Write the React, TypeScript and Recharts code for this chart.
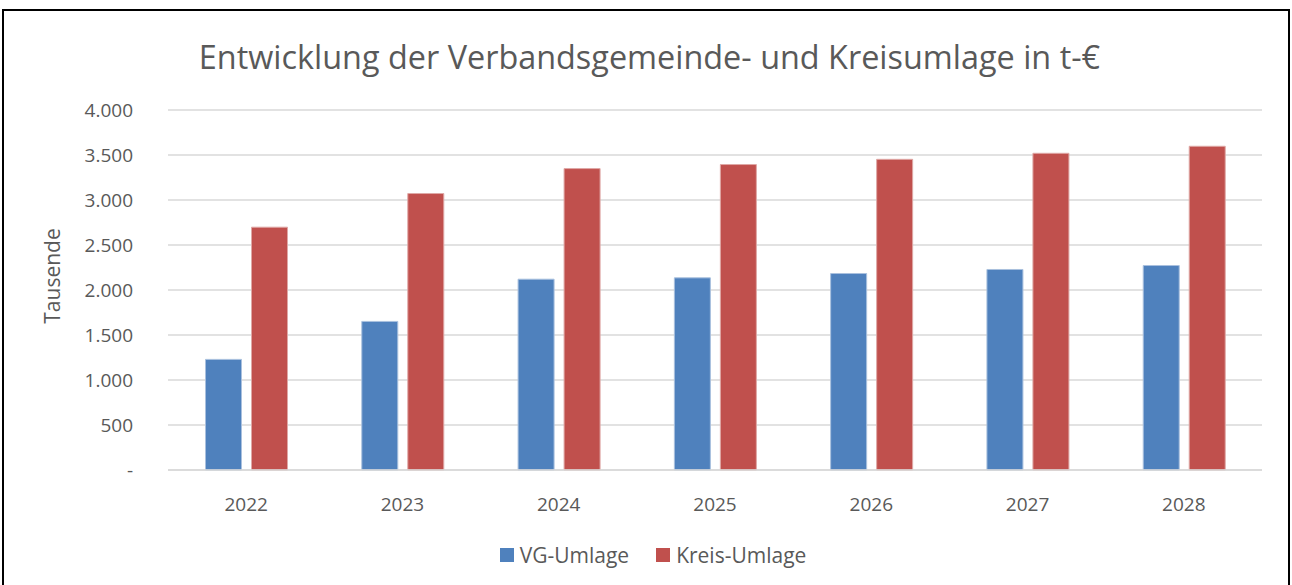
import React from 'react';
import { BarChart, Bar, CartesianGrid, XAxis, YAxis, Legend, Label } from 'recharts';

const years = ['2022', '2023', '2024', '2025', '2026', '2027', '2028'];
const vgUmlage = [1229, 1651, 2120, 2135, 2183, 2228, 2272];
const kreisUmlage = [2698, 3072, 3349, 3394, 3452, 3519, 3597];
const yTicks = [0, 500, 1000, 1500, 2000, 2500, 3000, 3500, 4000];

const FONT = '"Open Sans", Lato, sans-serif';
const TEXT = '#595959';

const formatTick = (v: number) => (v === 0 ? '-' : new Intl.NumberFormat('de-DE').format(v));

const data = years.map((y, i) => ({ year: y, vg: vgUmlage[i], kreis: kreisUmlage[i] }));

const LegendContent = () => (
    <div style={{ paddingTop: 18, paddingLeft: 44, display: 'flex', justifyContent: 'center', alignItems: 'center', fontFamily: FONT, fontSize: 21, lineHeight: '24px', color: TEXT }}>
        <span style={{ width: 14, height: 14, background: '#4F81BD', display: 'inline-block', marginRight: 6 }} />
        <span style={{ marginRight: 27 }}>VG-Umlage</span>
        <span style={{ width: 14, height: 14, background: '#C0504D', display: 'inline-block', marginRight: 6 }} />
        <span>Kreis-Umlage</span>
    </div>
);

const App: React.FC = () => {
    return (
        <div style={{ position: 'absolute', left: 0, top: 0, width: 1292, height: 585, background: '#fff', overflow: 'hidden' }}>
            <div style={{ position: 'absolute', left: 2, top: 9, width: 1288, height: 600, border: '2px solid #000', boxSizing: 'border-box' }} />
            <div style={{ position: 'absolute', left: 0, top: 34, width: 1299, textAlign: 'center', fontFamily: FONT, fontSize: 32.4, lineHeight: '44px', color: TEXT }}>
                Entwicklung der Verbandsgemeinde- und Kreisumlage in t-€
            </div>
            <div style={{ position: 'absolute', left: 0, top: 0 }}>
                <BarChart
                    width={1292}
                    height={585}
                    data={data}
                    margin={{ top: 110, right: 30, bottom: 10, left: 0 }}
                    barCategoryGap="24%"
                    barGap={10}
                >
                    <CartesianGrid vertical={false} stroke="#D9D9D9" strokeWidth={1.5} />
                    <XAxis
                        dataKey="year"
                        height={55}
                        tickLine={false}
                        axisLine={{ stroke: '#D9D9D9', strokeWidth: 1.5 }}
                        tickMargin={22}
                        tick={{ fill: TEXT, fontFamily: FONT, fontSize: 19 }}
                    />
                    <YAxis
                        width={168}
                        domain={[0, 4000]}
                        ticks={yTicks}
                        interval={0}
                        tickLine={false}
                        axisLine={false}
                        tickMargin={29}
                        tickFormatter={formatTick}
                        tick={{ fill: TEXT, fontFamily: FONT, fontSize: 19 }}
                    >
                        <Label
                            content={() => (
                                <text
                                    x={52}
                                    y={276}
                                    transform="rotate(-90 52 276)"
                                    textAnchor="middle"
                                    dominantBaseline="central"
                                    fill={TEXT}
                                    fontFamily={FONT}
                                    fontSize={21}
                                >
                                    Tausende
                                </text>
                            )}
                        />
                    </YAxis>
                    <Legend verticalAlign="bottom" height={50} content={LegendContent} />
                    <Bar dataKey="vg" name="VG-Umlage" fill="#4F81BD" stroke="#A9C0DE" strokeWidth={1} isAnimationActive={false} />
                    <Bar dataKey="kreis" name="Kreis-Umlage" fill="#C0504D" stroke="#DFA8A6" strokeWidth={1} isAnimationActive={false} />
                </BarChart>
            </div>
        </div>
    );
};

export default App;
